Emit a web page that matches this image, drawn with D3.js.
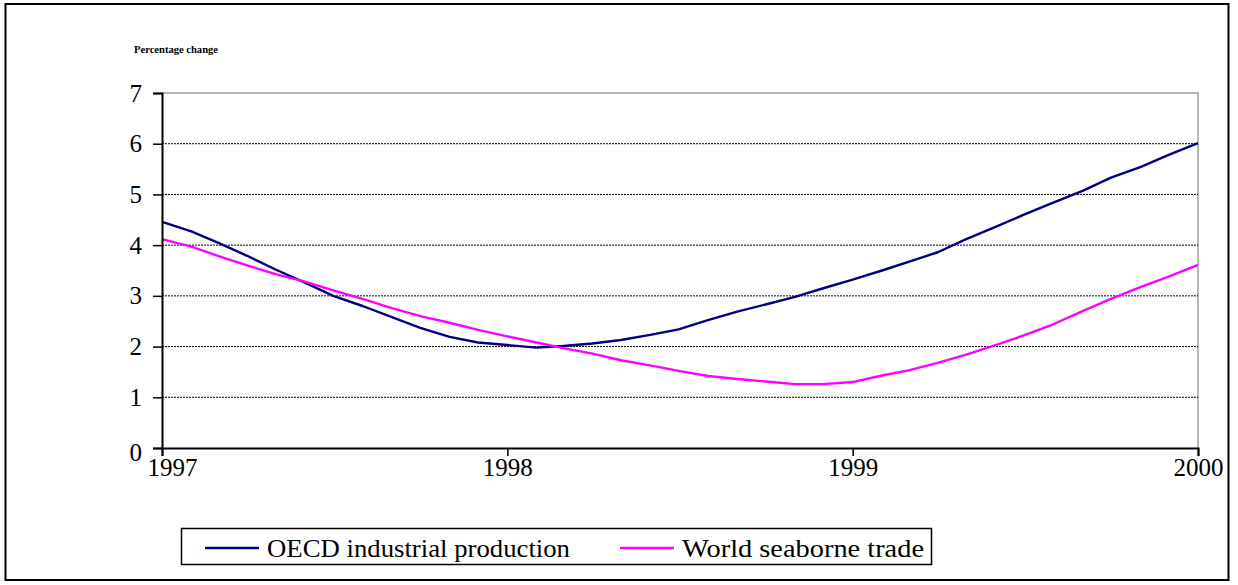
<!DOCTYPE html>
<html>
<head>
<meta charset="utf-8">
<script src="https://cdn.jsdelivr.net/npm/d3@7"></script>
</head>
<body style="margin:0">
<svg id="chart" width="1238" height="585"></svg>
<script>
// Monthly observations, January 1997 to January 2000 (percentage change)
const months = d3.range(37).map(i => new Date(1997, i, 1));
const oecdProduction = [
  4.46, 4.27, 4.05, 3.79, 3.52, 3.26, 3.00, 2.80, 2.58, 2.37, 2.19, 2.08,
  2.03, 1.98, 2.01, 2.06, 2.13, 2.23, 2.34, 2.52, 2.69, 2.83, 2.98, 3.15,
  3.32, 3.50, 3.67, 3.86, 4.12, 4.36, 4.60, 4.84, 5.07, 5.33, 5.54, 5.78,
  6.01
];
const seaborneTrade = [
  4.12, 3.97, 3.79, 3.60, 3.43, 3.28, 3.11, 2.94, 2.76, 2.60, 2.47, 2.33,
  2.20, 2.08, 1.97, 1.86, 1.73, 1.63, 1.52, 1.42, 1.36, 1.31, 1.26, 1.26,
  1.30, 1.43, 1.53, 1.68, 1.84, 2.03, 2.22, 2.44, 2.70, 2.94, 3.17, 3.38,
  3.61
];
const yearTicks = [1997, 1998, 1999, 2000];
const valueTicks = [0, 1, 2, 3, 4, 5, 6, 7];
const seriesNames = ["OECD industrial production", "World seaborne trade"];
const seriesColors = ["#000080", "#ff00ff"];

const svg = d3.select("#chart").style("display", "block");

// Serif face for every text element
function serif(sel) {
  return sel.style("font-family", '"Liberation Serif"');
}

// Outer frame
svg.append("rect")
  .attr("x", 5.5).attr("y", 4).attr("width", 1223).attr("height", 576)
  .attr("fill", "#fff").attr("stroke", "#000").attr("stroke-width", 2);

const plot = { left: 162, right: 1198, top: 93, bottom: 448 };

const x = d3.scaleTime()
  .domain([new Date(1997, 0, 1), new Date(2000, 0, 1)])
  .range([plot.left, plot.right]);
const y = d3.scaleLinear().domain([0, 7]).range([plot.bottom, plot.top]);

// Axis title
svg.append("text")
  .attr("x", 134).attr("y", 53)
  .attr("font-size", 10).attr("font-weight", "bold")
  .attr("textLength", 84).attr("lengthAdjust", "spacingAndGlyphs")
  .text("Percentage change")
  .call(serif);

// Plot area border (top and right, grey)
svg.append("path")
  .attr("d", `M${plot.left},${plot.top}H${plot.right}V${plot.bottom}`)
  .attr("fill", "none").attr("stroke", "#a0a0a0").attr("stroke-width", 1.5);

// Dashed horizontal gridlines
svg.append("g")
  .selectAll("line")
  .data(valueTicks.filter(v => v > 0 && v < 7))
  .join("line")
  .attr("x1", plot.left).attr("x2", plot.right)
  .attr("y1", d => y(d)).attr("y2", d => y(d))
  .attr("stroke", "#000").attr("stroke-width", 1)
  .attr("stroke-dasharray", "2,1");

// Series lines
const line = d3.line()
  .x((d, i) => x(months[i]))
  .y(d => y(d));

[oecdProduction, seaborneTrade].forEach((vals, i) => {
  svg.append("path")
    .datum(vals)
    .attr("d", line)
    .attr("fill", "none")
    .attr("stroke", seriesColors[i])
    .attr("stroke-width", 2.4)
    .attr("stroke-linejoin", "round");
});

// Y axis
const yAxis = svg.append("g")
  .attr("transform", `translate(${plot.left},0)`)
  .call(d3.axisLeft(y).tickValues(valueTicks).tickFormat(d3.format("d")).tickSize(9).tickPadding(11));
yAxis.attr("font-family", null).attr("font-size", null);
yAxis.select(".domain").attr("stroke-width", 2);
yAxis.selectAll(".tick line").attr("stroke-width", 1.5);
yAxis.selectAll("text").attr("font-size", 25).attr("fill", "#000").call(serif);
yAxis.selectAll(".tick").filter(d => d === 0).select("text").attr("dy", "0.48em");

// X axis
const xAxis = svg.append("g")
  .attr("transform", `translate(0,${plot.bottom})`)
  .call(d3.axisBottom(x)
    .tickValues(yearTicks.map(yr => new Date(yr, 0, 1)))
    .tickFormat(d3.timeFormat("%Y"))
    .tickSize(8).tickPadding(2));
xAxis.attr("font-family", null).attr("font-size", null);
xAxis.select(".domain").attr("stroke-width", 2);
xAxis.selectAll(".tick line").attr("stroke-width", 1.5);
xAxis.selectAll("text").attr("font-size", 25).attr("fill", "#000").call(serif);
xAxis.selectAll(".tick").filter((d, i) => i === 0).select("text").attr("dx", 10);

// Legend
const legend = svg.append("g");
legend.append("rect")
  .attr("x", 181.5).attr("y", 528.5).attr("width", 750).attr("height", 36)
  .attr("fill", "#fff").attr("stroke", "#000").attr("stroke-width", 1.5);
const legendX = [205, 620];
const legendTextWidth = [303, 242];
seriesNames.forEach((name, i) => {
  legend.append("line")
    .attr("x1", legendX[i]).attr("x2", legendX[i] + 54)
    .attr("y1", 548).attr("y2", 548)
    .attr("stroke", seriesColors[i]).attr("stroke-width", 2.4);
  legend.append("text")
    .attr("x", legendX[i] + 62).attr("y", 557)
    .attr("font-size", 26)
    .attr("textLength", legendTextWidth[i]).attr("lengthAdjust", "spacingAndGlyphs")
    .text(name)
    .call(serif);
});
</script>
</body>
</html>
